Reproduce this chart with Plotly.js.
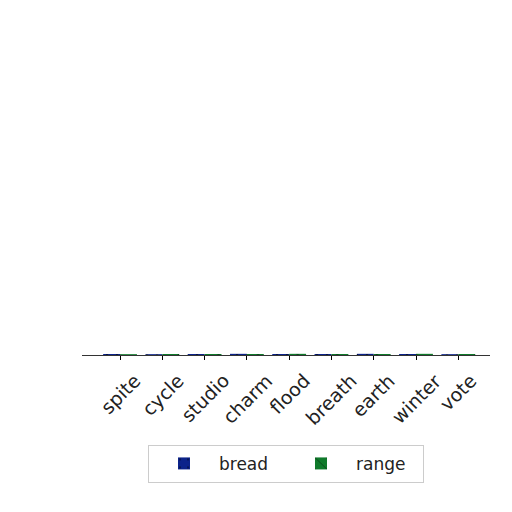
<!DOCTYPE html>
<html>
<head>
<meta charset="utf-8">
<script src="https://cdn.plot.ly/plotly-3.0.1.min.js"></script>
<style>
  html, body { margin: 0; padding: 0; background: #ffffff; }
  #graph { width: 512px; height: 512px; }
</style>
</head>
<body>
<div id="graph"></div>
<script>
// categories along the x axis
const categories = ["spite", "cycle", "studio", "charm", "flood", "breath", "earth", "winter", "vote"];
// series values (tiny next to the axis span, so the bars barely show)
const breadValues = [0.3, 0.25, 0.3, 0.35, 0.3, 0.3, 0.35, 0.3, 0.25];
const rangeValues = [0.25, 0.3, 0.3, 0.3, 0.35, 0.3, 0.3, 0.35, 0.3];
const yMax = 100;

const breadColor = "#0c238a";
const rangeColor = "#0f7a2b";

let data = [
    {
        type: "bar",
        name: "bread",
        x: categories,
        y: breadValues,
        marker: {color: breadColor, line: {width: 0},
                 pattern: {shape: ".", fillmode: "overlay", fgcolor: "#000000", size: 10, solidity: 0.05}},
        width: 0.4,
        offset: -0.4
    },
    {
        type: "bar",
        name: "range",
        x: categories,
        y: rangeValues,
        marker: {color: rangeColor, line: {width: 0},
                 pattern: {shape: "\\", fillmode: "overlay", fgcolor: "#000000", size: 14, solidity: 0.1}},
        width: 0.4,
        offset: 0
    }
];

// rotated category labels, centred under each tick like the reference
let labels = categories.map(c => ({
    x: c,
    xref: "x",
    y: -0.035,
    yref: "paper",
    text: c,
    textangle: -45,
    showarrow: false,
    xanchor: "center",
    yanchor: "top",
    font: {family: "DejaVu Sans", size: 19, color: "#222222"}
}));

let layout = {
    width: 512,
    height: 512,
    margin: {l: 82, r: 22, t: 20, b: 157, pad: 0},
    paper_bgcolor: "#ffffff",
    plot_bgcolor: "#ffffff",
    font: {family: "DejaVu Sans", size: 14, color: "#222222"},
    showlegend: true,
    xaxis: {
        type: "category",
        range: [-0.9, 8.75],
        showticklabels: false,
        ticks: "outside",
        ticklen: 4,
        tickcolor: "#000000",
        showline: true,
        linecolor: "#333333",
        linewidth: 1,
        showgrid: false,
        zeroline: false
    },
    yaxis: {
        range: [0, yMax],
        visible: false,
        showgrid: false,
        zeroline: false
    },
    annotations: labels,
    legend: {
        orientation: "h",
        x: 0.5,
        xanchor: "center",
        y: -0.325,
        yanchor: "middle",
        bgcolor: "#ffffff",
        bordercolor: "#cccccc",
        borderwidth: 1,
        font: {family: "DejaVu Sans", size: 17, color: "#222222"},
        entrywidth: 62,
        itemwidth: 60,
        traceorder: "normal"
    }
};

Plotly.newPlot("graph", data, layout, {displayModeBar: false, staticPlot: true});
</script>
</body>
</html>
